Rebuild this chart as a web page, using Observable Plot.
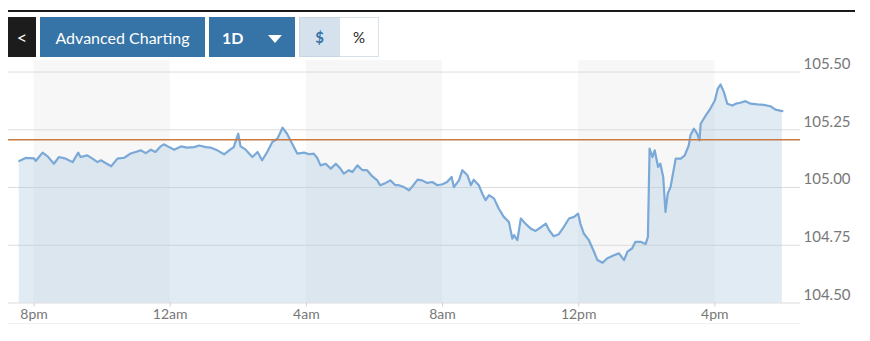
<!DOCTYPE html>
<html>
<head>
<meta charset="utf-8">
<script src="https://cdn.jsdelivr.net/npm/d3@7"></script>
<script src="https://cdn.jsdelivr.net/npm/@observablehq/plot@0.6"></script>
<style>
  html, body { margin: 0; padding: 0; background: #fff; }
  #wrap { position: relative; width: 870px; height: 341px; overflow: hidden; font-family: Lato, "Open Sans", sans-serif; }
  #chart { position: absolute; left: 0; top: 0; }
  .topline { position: absolute; left: 8px; top: 10px; width: 847px; height: 2px; background: #1a1a1a; }
  .btn { position: absolute; top: 17px; height: 40px; display: flex; align-items: center; justify-content: center; box-sizing: border-box; }
  .back { left: 8px; width: 28px; background: #1c1c1c; color: #fff; font-size: 18px; }
  .adv { left: 40px; width: 165px; background: #3673a6; color: #fff; font-size: 16px; }
  .period { left: 209px; width: 86px; background: #3673a6; color: #fff; font-size: 16px; font-weight: bold; justify-content: flex-start; padding-left: 13px; }
  .tri { position: absolute; left: 59px; top: 18px; width: 0; height: 0; border-left: 7px solid transparent; border-right: 7px solid transparent; border-top: 8px solid #fff; }
  .dollar { left: 299px; width: 41px; background: #d5e2ee; border: 1px solid #c6d6e4; color: #3673a6; font-size: 15px; font-weight: bold; }
  .pct { left: 339px; width: 40px; background: #fff; border: 1px solid #d6e1ea; color: #222; font-size: 15px; }
  .sep { position: absolute; left: 8px; top: 323px; width: 792px; height: 1px; background: #f1f1f1; }
</style>
</head>
<body>
<div id="wrap">
  <div id="chart"></div>
  <div class="topline"></div>
  <div class="btn back">&lt;</div>
  <div class="btn adv">Advanced Charting</div>
  <div class="btn period">1D<span class="tri"></span></div>
  <div class="btn dollar">$</div>
  <div class="btn pct">%</div>
  <div class="sep"></div>
</div>
<script>
// ---- data ----
const times = [
  "19:34","19:45","20:00","20:03","20:15","20:24","20:35","20:44","20:56","21:08",
  "21:18","21:22","21:34","21:43","21:52","21:58","22:06","22:16","22:27","22:39",
  "22:50","22:59","23:08","23:17","23:26","23:34","23:43","23:49","23:58","00:07",
  "00:19","00:30","00:42","00:51","01:03","01:11","01:23","01:35","01:44","01:52",
  "02:00","02:04","02:13","02:19","02:25","02:34","02:42","02:51","03:00","03:09",
  "03:18","03:26","03:35","03:44","03:56","04:05","04:13","04:19","04:25","04:34",
  "04:43","04:52","05:00","05:06","05:15","05:21","05:30","05:39","05:47","05:56",
  "06:05","06:10","06:20","06:28","06:37","06:43","06:52","07:01","07:07","07:16",
  "07:24","07:33","07:42","07:51","08:00","08:08","08:16","08:20","08:29","08:35",
  "08:44","08:50","08:55","09:04","09:10","09:16","09:22","09:31","09:39","09:48",
  "09:57","10:03","10:06","10:12","10:18","10:26","10:35","10:44","10:53","11:02",
  "11:08","11:16","11:25","11:34","11:43","11:52","11:59","12:03","12:09","12:18",
  "12:27","12:33","12:42","12:50","13:02","13:11","13:20","13:26","13:34","13:40",
  "13:49","13:58","14:02","14:05","14:10","14:14","14:20","14:24","14:29","14:33",
  "14:37","14:42","14:51","15:00","15:07","15:14","15:17","15:23","15:29","15:33",
  "15:35","15:44","15:52","16:00","16:05","16:10","16:16","16:22","16:31","16:37",
  "16:45","16:54","17:03","17:15","17:26","17:38","17:47","17:59"
];
const prices = [
  105.115,105.128,105.126,105.115,105.151,105.135,105.103,105.132,105.125,105.110,
  105.151,105.132,105.139,105.125,105.110,105.118,105.106,105.092,105.125,105.129,
  105.147,105.154,105.161,105.149,105.164,105.154,105.178,105.187,105.175,105.164,
  105.178,105.173,105.175,105.182,105.175,105.173,105.161,105.144,105.161,105.175,
  105.233,105.178,105.164,105.147,105.132,105.154,105.118,105.154,105.197,105.211,
  105.259,105.233,105.190,105.147,105.151,105.144,105.147,105.129,105.096,105.103,
  105.082,105.103,105.082,105.060,105.075,105.067,105.096,105.075,105.075,105.049,
  105.031,105.010,105.020,105.031,105.010,105.010,105.002,104.988,105.005,105.034,
  105.031,105.020,105.024,105.010,105.014,105.024,105.046,105.002,105.031,105.075,
  105.053,105.010,105.034,105.010,104.974,104.945,104.967,104.952,104.909,104.873,
  104.851,104.779,104.794,104.772,104.866,104.844,104.823,104.812,104.827,104.844,
  104.815,104.789,104.798,104.830,104.866,104.873,104.887,104.844,104.801,104.772,
  104.722,104.686,104.674,104.693,104.707,104.715,104.686,104.722,104.736,104.765,
  104.765,104.755,104.786,105.168,105.132,105.161,105.089,105.103,105.046,104.894,
  104.974,105.002,105.125,105.125,105.139,105.182,105.226,105.255,105.233,105.204,
  105.276,105.312,105.341,105.377,105.427,105.446,105.413,105.363,105.355,105.363,
  105.367,105.374,105.363,105.360,105.358,105.352,105.337,105.331
];
const previousClose = 105.207;
const xTickTimes = ["20:00","00:00","04:00","08:00","12:00","16:00"];
const xTickLabels = ["8pm","12am","4am","8am","12pm","4pm"];
const yTicks = [104.50, 104.75, 105.00, 105.25, 105.50];
const bandStarts = ["20:00","04:00","12:00"];
const bandEnds = ["00:00","08:00","16:00"];
const xDomainTimes = ["19:15","18:31"];
const yDomain = [104.5, 105.55];

// ---- build ----
function parseT(s) {
  const [h, m] = s.split(":").map(Number);
  return new Date(2024, 0, h >= 19 ? 1 : 2, h, m);
}
const data = times.map((t, i) => ({t: parseT(t), v: prices[i]}));
const bands = bandStarts.map((s, i) => ({x1: parseT(s), x2: parseT(bandEnds[i])}));
const tickDates = xTickTimes.map(parseT);
const labelOf = new Map(tickDates.map((d, i) => [+d, xTickLabels[i]]));

const chart = Plot.plot({
  width: 870,
  height: 341,
  marginLeft: 8,
  marginRight: 70,
  marginTop: 60,
  marginBottom: 38.5,
  style: {fontFamily: "Lato, 'Open Sans', sans-serif", fontSize: "14px", background: "transparent", overflow: "visible"},
  x: {type: "time", domain: xDomainTimes.map(parseT), label: null},
  y: {domain: yDomain, label: null},
  marks: [
    Plot.rectX(bands, {x1: "x1", x2: "x2", fill: "#f7f7f7"}),
    Plot.gridY(yTicks, {stroke: "#dcdcdc", strokeOpacity: 1}),
    Plot.areaY(data, {x: "t", y1: yDomain[0], y2: "v", fill: "#a9c6df", fillOpacity: 0.35}),
    Plot.lineY(data, {x: "t", y: "v", stroke: "#7aa9d8", strokeWidth: 2.2}),
    Plot.ruleY([previousClose], {stroke: "#c97a43", strokeWidth: 1.6}),
    Plot.axisX({ticks: tickDates, tickFormat: d => labelOf.get(+d), tickSize: 4, tickPadding: 2.5,
      stroke: "#cfcfcf", fill: "#777", fontSize: 14, label: null}),
    Plot.axisY({anchor: "right", ticks: yTicks, tickSize: 0, tickPadding: 3, dy: -8,
      tickFormat: d3.format(".2f"), fill: "#777", fontSize: 15, textAnchor: "start", label: null})
  ]
});
document.getElementById("chart").appendChild(chart);
</script>
</body>
</html>
